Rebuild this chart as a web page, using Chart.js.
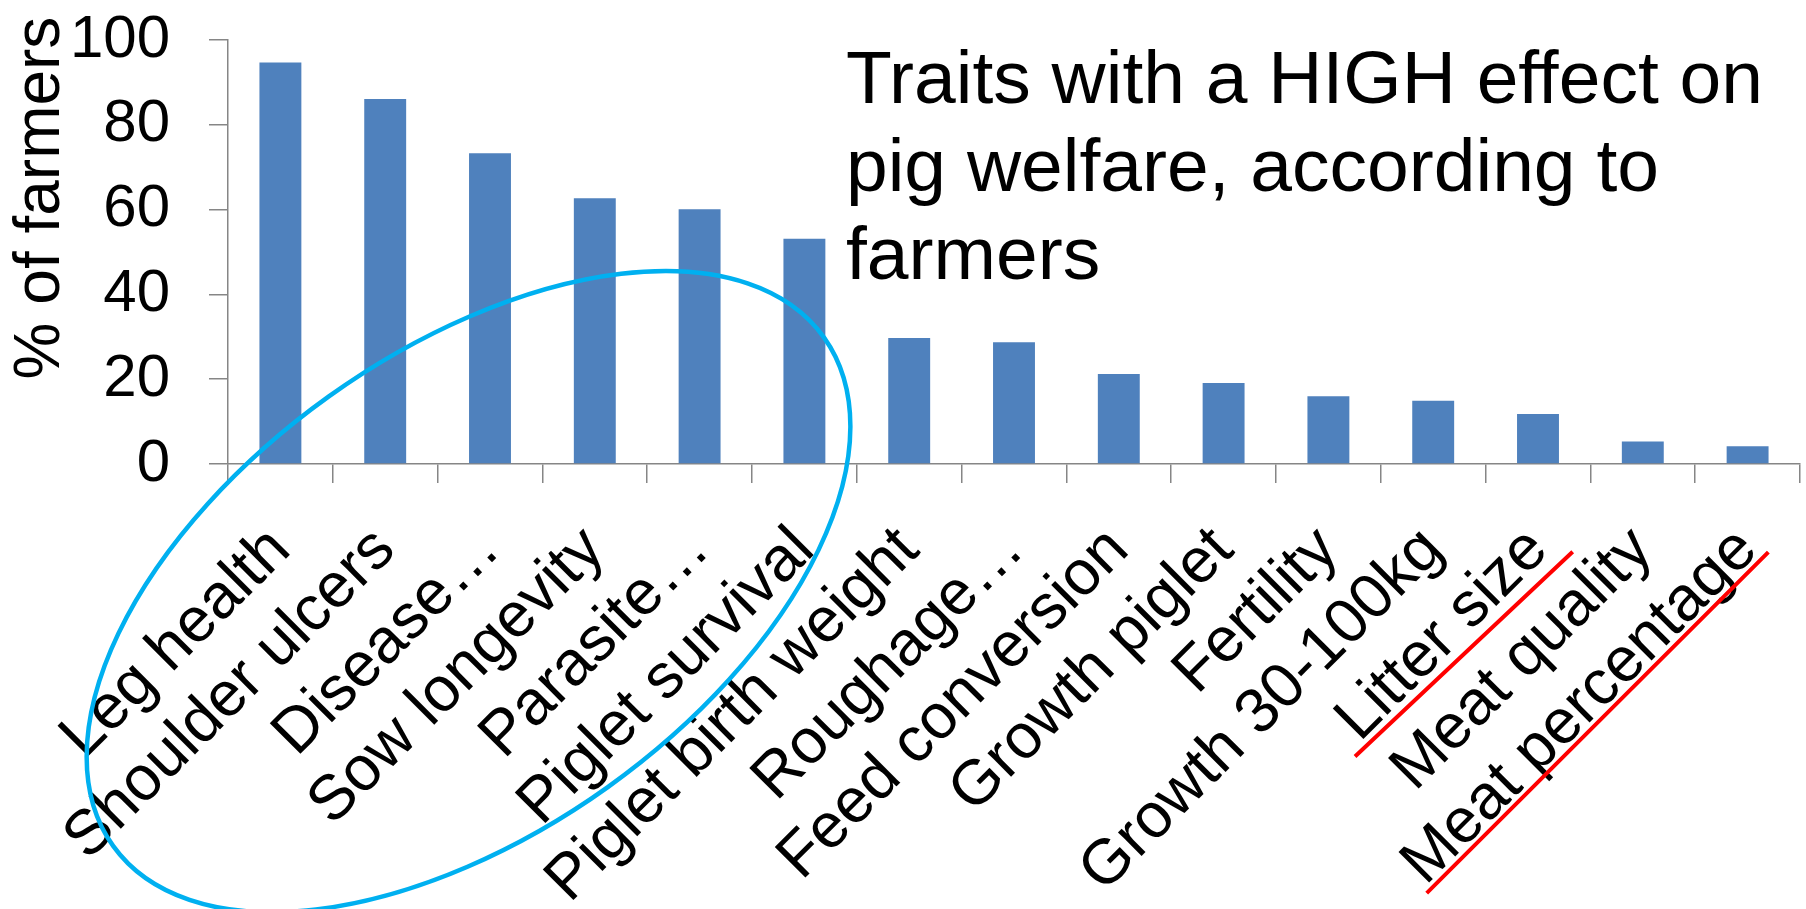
<!DOCTYPE html>
<html lang="en">
<head>
  <meta charset="UTF-8">
  <title>Traits with a HIGH effect on pig welfare</title>
  <script src="https://cdn.jsdelivr.net/npm/chart.js@4"></script>
  <style>
    body {
      margin: 0;
      background: #fff;
    }
    #wrap {
      position: relative;
      width: 1806px;
      height: 909px;
    }
  </style>
</head>
<body>
  <div id="wrap"><canvas id="chart"></canvas></div>

  <script>
    // categories and values
    const traits = [
      'Leg health', 'Shoulder ulcers', 'Disease\u2026', 'Sow longevity', 'Parasite\u2026',
      'Piglet survival', 'Piglet birth weight', 'Roughage\u2026', 'Feed conversion',
      'Growth piglet', 'Fertility', 'Growth 30-100kg', 'Litter size', 'Meat quality',
      'Meat percentage'
    ];
    const highEffect = [94.7, 86.1, 73.3, 62.7, 60.1, 53.1, 29.7, 28.7, 21.2, 19.1, 16.0, 14.9, 11.8, 5.3, 4.2];
    const yTicks = [0, 20, 40, 60, 80, 100];
    const yTitle = '% of farmers';
    const note = ['Traits with a HIGH effect on', 'pig welfare, according to', 'farmers'];

    const FONT = "'Liberation Sans', Arial, sans-serif";
    const AXIS_GREY = '#868686';

    // hand-drawn extras: title text, blue ellipse, red lines
    const extras = {
      id: 'extras',
      afterDraw(chart) {
        const ctx = chart.ctx;
        const x = chart.scales.x;
        const y = chart.scales.y;

        // y axis title
        ctx.save();
        ctx.translate(59, 198);
        ctx.rotate(-Math.PI / 2);
        ctx.font = '64px ' + FONT;
        ctx.fillStyle = '#000';
        ctx.textAlign = 'center';
        ctx.textBaseline = 'alphabetic';
        ctx.fillText(yTitle, 0, 0);
        ctx.restore();

        // note in the top right
        ctx.save();
        ctx.font = '75px ' + FONT;
        ctx.fillStyle = '#000';
        ctx.textBaseline = 'alphabetic';
        note.forEach((line, i) => ctx.fillText(line, 846, 103 + i * 88));
        ctx.restore();

        // ellipse round the first six traits
        ctx.save();
        ctx.strokeStyle = '#00B0F0';
        ctx.lineWidth = 4.5;
        ctx.beginPath();
        ctx.ellipse(x.getPixelForValue(1.795), y.getPixelForValue(-30.1), 437, 240, -0.621, 0, Math.PI * 2);
        ctx.stroke();
        ctx.restore();

        // red lines under the last labels
        ctx.save();
        ctx.strokeStyle = '#FF0000';
        ctx.lineWidth = 4;
        ctx.beginPath();
        ctx.moveTo(x.getPixelForValue(10.254), y.getPixelForValue(-69.0));
        ctx.lineTo(x.getPixelForValue(12.331), y.getPixelForValue(-20.7));
        ctx.moveTo(x.getPixelForValue(10.938), y.getPixelForValue(-101.2));
        ctx.lineTo(x.getPixelForValue(14.198), y.getPixelForValue(-20.8));
        ctx.stroke();
        ctx.restore();
      }
    };

    new Chart(document.getElementById('chart'), {
      type: 'bar',
      data: {
        labels: traits,
        datasets: [{
          label: 'HIGH effect',
          data: highEffect,
          backgroundColor: '#4F81BD',
          borderWidth: 0,
          barPercentage: 0.4,
          categoryPercentage: 1.0
        }]
      },
      options: {
        responsive: true,
        maintainAspectRatio: false,
        animation: false,
        layout: {
          padding: { top: 40, right: 6, left: 0, bottom: 0 }
        },
        plugins: {
          legend: { display: false },
          tooltip: { enabled: false }
        },
        scales: {
          x: {
            afterFit: s => {
              s.height = 445;
              s.paddingLeft = 0;
              s.paddingRight = 0;
            },
            grid: {
              offset: true,
              drawOnChartArea: false,
              tickLength: 19,
              color: AXIS_GREY,
              lineWidth: 1.5
            },
            border: { color: AXIS_GREY, width: 1.5 },
            ticks: {
              autoSkip: false,
              maxRotation: 45,
              minRotation: 45,
              padding: 30,
              color: '#000',
              font: { family: FONT, size: 63 }
            }
          },
          y: {
            min: 0,
            max: 100,
            afterFit: s => {
              s.width = 228;
              s.paddingTop = 0;
              s.paddingBottom = 0;
            },
            afterBuildTicks: s => { s.ticks = yTicks.map(v => ({ value: v })); },
            grid: {
              drawOnChartArea: false,
              tickLength: 19,
              color: AXIS_GREY,
              lineWidth: 1.5
            },
            border: { color: AXIS_GREY, width: 1.5 },
            ticks: {
              padding: 39,
              color: '#000',
              font: { family: FONT, size: 60 }
            }
          }
        }
      },
      plugins: [extras]
    });
  </script>
</body>
</html>
